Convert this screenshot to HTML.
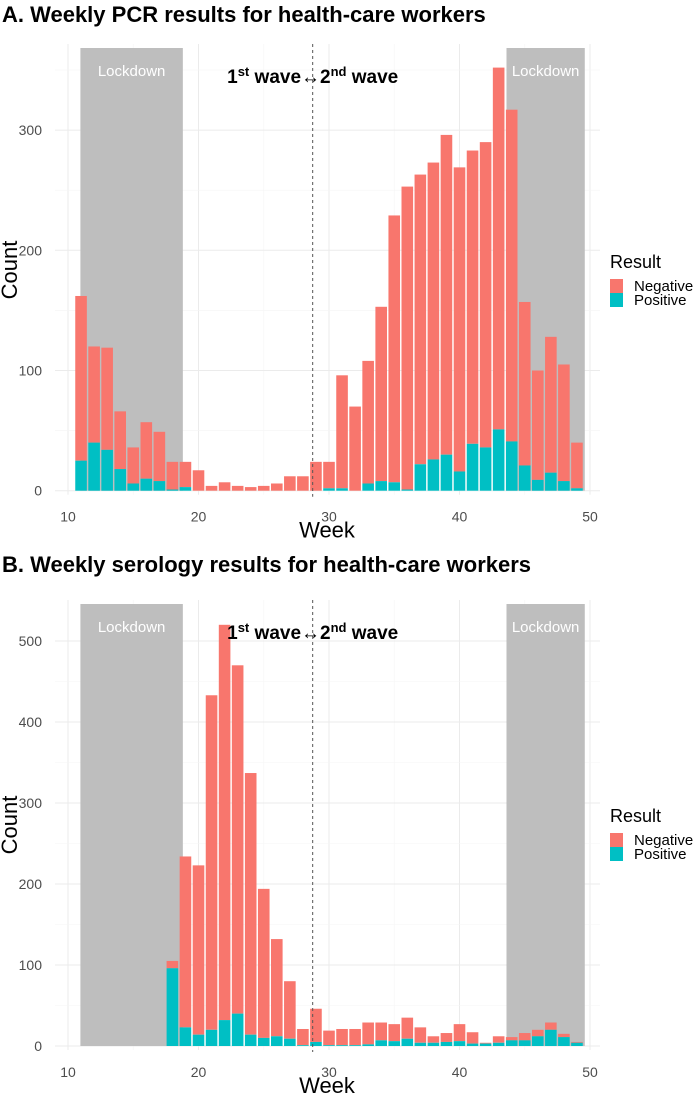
<!DOCTYPE html>
<html><head><meta charset="utf-8"><style>
body{margin:0;background:#fff;}
svg{display:block;font-family:"Liberation Sans",Arial,sans-serif;}
</style></head><body>
<svg id="chart" width="696" height="1097" viewBox="0 0 696 1097"></svg>
<script>
const weeks=[11,12,13,14,15,16,17,18,19,20,21,22,23,24,25,26,27,28,29,30,31,32,33,34,35,36,37,38,39,40,41,42,43,44,45,46,47,48,49];
const pcrTotal=[162,120,119,66,36,57,49,24,24,17,4,7,4,3,4,6,12,12,24,24,96,70,108,153,229,253,263,273,296,269,283,290,352,317,157,100,128,105,40];
const pcrPos=[25,40,34,18,6,10,8,1,3,0,0,0,0,0,0,0,0,0,0,2,2,0,6,8,7,1,22,26,30,16,39,36,51,41,21,9,15,8,2];
const seroWeeks=[18,19,20,21,22,23,24,25,26,27,28,29,30,31,32,33,34,35,36,37,38,39,40,41,42,43,44,45,46,47,48,49];
const seroTotal=[105,234,223,433,520,470,337,194,132,80,21,46,19,21,21,29,29,27,35,23,12,16,27,17,4,12,11,16,20,29,15,5];
const seroPos=[96,23,14,20,32,40,14,10,12,9,1,5,1,1,1,2,7,6,9,4,4,5,6,3,3,4,7,7,12,20,11,4];
const xTicks=[10,20,30,40,50];
const pcrYTicks=[0,100,200,300];
const seroYTicks=[0,100,200,300,400,500];

const svg=document.getElementById('chart');
const NS='http://www.w3.org/2000/svg';
function mk(tag,attrs,parent){const e=document.createElementNS(NS,tag);for(const k in attrs)e.setAttribute(k,attrs[k]);(parent||svg).appendChild(e);return e;}
const xs=w=>68+(w-10)*13.05;
const NEG='#f8766d',POS='#00bfc4';

function panel(cfg){
  const g=mk('g',{});
  
  
  const ys=v=>cfg.y0-v*cfg.k;
  const t=mk('text',{x:2,y:cfg.titleY,'font-size':22,'font-weight':'bold',fill:'#000'},g);
  t.textContent=cfg.title;
  
  
  for(let w=10;w<=50;w+=5){const l=mk('line',{x1:xs(w),x2:xs(w),y1:cfg.top-4,y2:cfg.y0+4,stroke:w%10?'#f5f5f5':'#ebebeb','stroke-width':w%10?0.6:1},g);
    }
  for(let v=0;v<=cfg.ymax;v+=50){const l=mk('line',{x1:55,x2:600,y1:ys(v),y2:ys(v),stroke:v%100?'#f5f5f5':'#ebebeb','stroke-width':v%100?0.6:1},g);
    }
  [[10.95,18.8],[43.6,49.6]].forEach(r=>{
    const s=mk('rect',{x:xs(r[0]),y:cfg.top,width:xs(r[1])-xs(r[0]),height:cfg.y0-cfg.top,fill:'#bebebe'},g);
    
    const tx=mk('text',{x:(xs(r[0])+xs(r[1]))/2,y:cfg.top+28,'font-size':15,fill:'#fff','text-anchor':'middle'},g);
    tx.textContent='Lockdown';
    
  });
  cfg.w.forEach((w,i)=>{
    const bw=11.6,x=xs(w)-bw/2;
    const n=mk('rect',{x:x,y:ys(cfg.tot[i]),width:bw,height:(cfg.tot[i]-cfg.pos[i])*cfg.k,fill:NEG},g);
    
    const p=mk('rect',{x:x,y:ys(cfg.pos[i]),width:bw,height:cfg.pos[i]*cfg.k,fill:POS},g);
    
  });
  const d=mk('line',{x1:xs(28.75),x2:xs(28.75),y1:cfg.top-4,y2:cfg.y0+6,stroke:'#555','stroke-dasharray':'3,3','stroke-width':1},g);
  
  const a=mk('text',{x:xs(28.75),y:cfg.top+35,'font-size':19,'font-weight':'bold',fill:'#000','text-anchor':'middle'},g);
  a.innerHTML='1<tspan dy="-7" font-size="13">st</tspan><tspan dy="7"> wave↔2</tspan><tspan dy="-7" font-size="13">nd</tspan><tspan dy="7"> wave</tspan>';
  
  xTicks.forEach(v=>{const l=mk('text',{x:xs(v),y:cfg.y0+31,'font-size':14,fill:'#4d4d4d','text-anchor':'middle'},g);l.textContent=v;
    });
  cfg.yt.forEach(v=>{const l=mk('text',{x:42,y:ys(v)+5,'font-size':14,fill:'#4d4d4d','text-anchor':'end'},g);l.textContent=v;
    });
  const xt=mk('text',{x:327,y:cfg.y0+47,'font-size':22,fill:'#000','text-anchor':'middle'},g);xt.textContent='Week';
  
  const yt=mk('text',{x:0,y:0,'font-size':22,fill:'#000','text-anchor':'middle',transform:`translate(17,${cfg.yMid}) rotate(-90)`},g);yt.textContent='Count';
  
  const L=mk('g',{},g);
  const lt=mk('text',{x:610,y:cfg.legY,'font-size':18,fill:'#000'},L);lt.textContent='Result';
  
  [['Negative',NEG],['Positive',POS]].forEach((e,i)=>{
    const r=mk('rect',{x:610,y:cfg.legY+11+i*14,width:13,height:14,fill:e[1]},L);
    
    const tx=mk('text',{x:634,y:cfg.legY+23+i*14,'font-size':15,fill:'#000'},L);tx.textContent=e[0];
    
  });
}
panel({name:'pcr-panel',title:'A. Weekly PCR results for health-care workers',titleY:22,top:48,y0:490.7,k:1.202,ymax:350,
  w:weeks,tot:pcrTotal,pos:pcrPos,yt:pcrYTicks,yMid:270,legY:268});
panel({name:'serology-panel',title:'B. Weekly serology results for health-care workers',titleY:572,top:604,y0:1046,k:0.81,ymax:520,
  w:seroWeeks,tot:seroTotal,pos:seroPos,yt:seroYTicks,yMid:825,legY:822});
</script>
</body></html>
